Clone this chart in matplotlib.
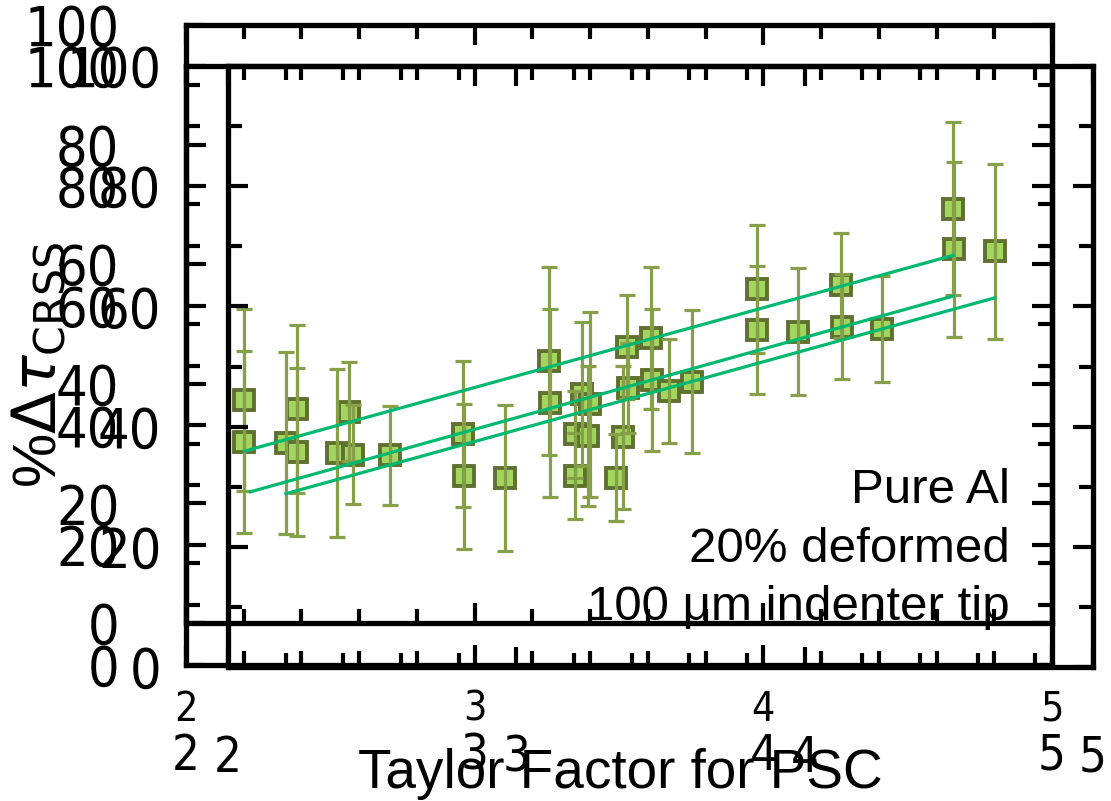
import matplotlib
matplotlib.use("Agg")
import matplotlib.pyplot as plt
from matplotlib import font_manager
from matplotlib.ticker import MultipleLocator

plt.rcParams['font.family'] = ['Liberation Sans', 'DejaVu Sans']
plt.rcParams['mathtext.fontset'] = 'dejavusans'

# tick labels in the original use a condensed DejaVu-like face;
# take the closest one that is installed
installed = [(f.name, f.stretch) for f in font_manager.fontManager.ttflist]
tick_family, tick_stretch, tick_scale = 'Liberation Sans', 'normal', 1.0
for name, stretch in installed:
    if name == 'Liberation Sans Narrow' and tick_family == 'Liberation Sans':
        tick_family, tick_stretch, tick_scale = name, 'normal', 1.0
for name, stretch in installed:
    if name == 'DejaVu Sans Condensed' or (
            name == 'DejaVu Sans' and stretch in ('condensed', 'semi-condensed')):
        tick_family, tick_stretch, tick_scale = name, 'condensed', 0.95
        break

# Taylor factor vs. % change in CRSS (Pure Al, 20% deformed)
taylor = [2.202, 2.202, 2.346, 2.383, 2.383, 2.524, 2.565, 2.580, 2.707,
          2.961, 2.964, 3.105, 3.257, 3.261, 3.348, 3.348, 3.372, 3.400,
          3.393, 3.529, 3.532, 3.513, 3.489, 3.611, 3.613, 3.673, 3.754,
          3.977, 3.979, 4.119, 4.269, 4.271, 4.412, 4.658, 4.660, 4.802]
dtau = [44.2, 37.2, 37.0, 42.7, 35.6, 35.4, 42.3, 35.1, 35.0,
        38.5, 31.5, 31.2, 50.7, 43.7, 38.5, 31.5, 45.2, 43.5,
        38.2, 53.1, 46.3, 38.0, 31.3, 54.6, 47.6, 45.8, 47.3,
        62.8, 55.9, 55.6, 63.4, 56.5, 56.1, 76.2, 69.4, 69.1]
dtau_err = [15.2, 15.2, 15.2, 14.0, 14.0, 14.0, 8.3, 8.3, 8.3,
            12.2, 12.1, 12.2, 15.7, 15.7, 7.3, 7.2, 12.0, 15.5,
            11.7, 8.7, 7.5, 12.0, 7.2, 11.9, 11.9, 8.7, 11.9,
            10.7, 10.7, 10.6, 8.8, 8.8, 8.8, 14.5, 14.6, 14.6]

# linear fits (start, end)
fit_x = [[2.202, 4.658], [2.222, 4.658], [2.346, 4.802]]
fit_y = [[35.7, 68.4], [28.9, 61.6], [28.6, 61.3]]

notes = ['Pure Al', '20% deformed', '100 \u03bcm indenter tip']

W, H = 1111, 801
fig = plt.figure(figsize=(W / 100, H / 100), dpi=100)


def px_rect(left, top, right, bottom):
    return [left / W, (H - bottom) / H, (right - left) / W, (bottom - top) / H]


def frame(rect, xsize, ysize):
    ax = fig.add_axes(rect)
    ax.set_facecolor('none')
    ax.set_xlim(2, 5)
    ax.set_ylim(0, 100)
    ax.xaxis.set_major_locator(MultipleLocator(1))
    ax.xaxis.set_minor_locator(MultipleLocator(0.2))
    ax.yaxis.set_major_locator(MultipleLocator(20))
    ax.yaxis.set_minor_locator(MultipleLocator(10))
    ax.tick_params(which='both', direction='in', top=True, right=True,
                   width=3, pad=48)
    ax.tick_params(which='major', length=14.5)
    ax.tick_params(which='minor', length=10)
    ax.tick_params(axis='x', labelsize=xsize * tick_scale)
    ax.tick_params(axis='y', labelsize=ysize * tick_scale)
    for lab in ax.get_xticklabels() + ax.get_yticklabels():
        lab.set_fontfamily(tick_family)
        lab.set_fontstretch(tick_stretch)
    for s in ax.spines.values():
        s.set_linewidth(3.8)
    return ax


# three stacked layers, slightly offset from each other
ax1 = frame(px_rect(186, 25, 1052, 623), 31, 42)
ax3 = frame(px_rect(186, 66, 1052, 665), 37, 42)
ax2 = frame(px_rect(228, 66, 1093, 667), 37, 42)

ax3.plot(taylor, dtau, 's', ms=15, mfc='#a3d65f', mec='#5f7030', mew=2.8,
         zorder=2, clip_on=False)
ax3.errorbar(taylor, dtau, yerr=dtau_err, fmt='none', ecolor='#86a04a',
             elinewidth=2.3, capsize=6, capthick=2.3, zorder=3, clip_on=False)
for fx, fy in zip(fit_x, fit_y):
    ax3.plot(fx, fy, '-', color='#00b870', lw=2.3, zorder=4)

fig.text(40 / W, (H - 365) / H, '%' + r'$\Delta\tau_{\mathrm{CRSS}}$',
         rotation=90, ha='center', va='center', fontsize=44)
fig.text(620 / W, (H - 788) / H, 'Taylor Factor for PSC',
         ha='center', va='baseline', fontsize=39.5)
for i, t in enumerate(notes):
    fig.text(1010 / W, (H - 503 - 58.5 * i) / H, t,
             ha='right', va='baseline', fontsize=35.5)

fig.savefig('out.png', dpi=100)
